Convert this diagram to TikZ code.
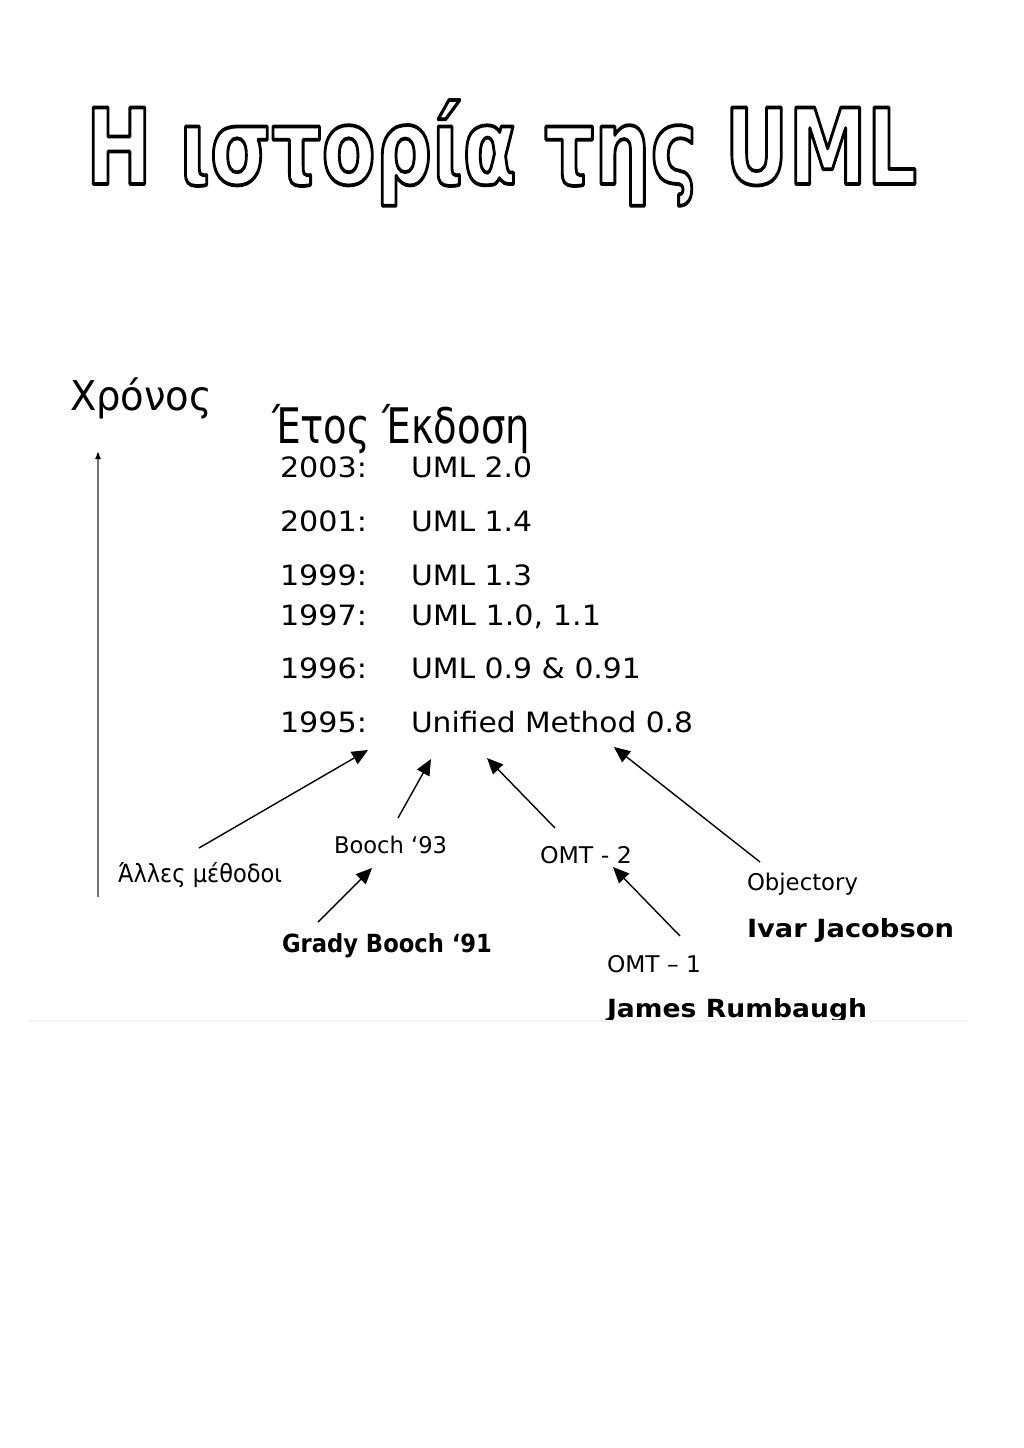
\documentclass[tikz,border=0pt]{standalone}
\usepackage{fontspec}
\setmainfont{DejaVu Sans}
\usetikzlibrary{arrows.meta,calc}
\newcommand\fw[2]{\resizebox{#1pt}{\height}{#2}}
\newcommand\outlined[1]{\special{pdf:literal direct 1 Tr 3 w 1 j}#1\special{pdf:literal direct 0 Tr}}
\begin{document}
\begin{tikzpicture}[x=1pt,y=-1pt,
  lbl/.style={anchor=base west, inner sep=0pt, outer sep=0pt},
  rowtxt/.style={lbl, font=\fontsize{28}{28}\selectfont},
  small/.style={lbl, font=\fontsize{23}{23}\selectfont},
  strong/.style={lbl, font=\fontsize{25}{25}\selectfont\bfseries},
  conn/.style={draw=black, line width=1.4pt, -{Triangle[length=16pt,width=14pt]}},
  axisline/.style={draw=black!55, line width=1.4pt, -{Latex[length=8pt,width=6pt,color=black]}}
]
\useasboundingbox[fill=white] (0,0) rectangle (1024,1448);

% title (outlined)
\node[lbl, font=\fontsize{84}{84}\selectfont\bfseries] (title) at (86,184) {\resizebox{831pt}{84pt}{\outlined{Η ιστορία της UML}}};

% time axis
\node[lbl, font=\fontsize{41}{41}\selectfont] (xronos) at (70,410) {\fw{142}{Χρόνος}};
\coordinate (axbot) at (98,897);
\coordinate (axtop) at (98,451);
\draw[axisline] (axbot) -- (axtop);

% header
\node[lbl, font=\fontsize{49}{49}\selectfont] (header) at (272,443) {\fw{258}{Έτος Έκδοση}};

% rows
\node[rowtxt] (y2003) at (280,477) {\fw{87}{2003:}};
\node[rowtxt] (v2003) at (411,477) {\fw{121}{UML 2.0}};
\node[rowtxt] (y2001) at (280,531) {\fw{87}{2001:}};
\node[rowtxt] (v2001) at (411,531) {\fw{121}{UML 1.4}};
\node[rowtxt] (y1999) at (280,585) {\fw{87}{1999:}};
\node[rowtxt] (v1999) at (411,585) {\fw{121}{UML 1.3}};
\node[rowtxt] (y1997) at (280,625) {\fw{87}{1997:}};
\node[rowtxt] (v1997) at (411,625) {\fw{190}{UML 1.0, 1.1}};
\node[rowtxt] (y1996) at (280,678) {\fw{87}{1996:}};
\node[rowtxt] (v1996) at (411,678) {\fw{230}{UML 0.9 \& 0.91}};
\node[rowtxt] (y1995) at (280,732) {\fw{87}{1995:}};
\node[rowtxt] (v1995) at (411,732) {\fw{282}{Unified Method 0.8}};

% sources
\node[lbl, font=\fontsize{25}{25}\selectfont] (alt) at (118,882) {\fw{164}{Άλλες μέθοδοι}};
\node[small] (b93) at (334,853) {\fw{113}{Booch ‘93}};
\node[strong] (gb91) at (282,952) {\fw{210}{Grady Booch ‘91}};
\node[small] (omt2) at (540,863) {\fw{92}{OMT - 2}};
\node[small] (obj) at (747,890) {\fw{111}{Objectory}};
\node[strong] (ivar) at (747,937) {\fw{207}{Ivar Jacobson}};
\node[small] (omt1) at (607,972) {\fw{94}{OMT – 1}};
\begin{scope}
  \clip (0,0) rectangle (1024,1019);
  \node[strong] (james) at (607,1017) {\fw{260}{James Rumbaugh}};
\end{scope}
\draw[black!4, line width=1.5pt] (28,1021) -- (968,1021);

% arrow end points
\coordinate (altT) at (199,848);   \coordinate (altH) at (368,750);
\coordinate (b93T) at (398,818);   \coordinate (b93H) at (431,759);
\coordinate (omt2T) at (555,828);  \coordinate (omt2H) at (487,758);
\coordinate (objT) at (760,862);   \coordinate (objH) at (614,747);
\coordinate (gbT) at (318,922);    \coordinate (gbH) at (372,868);
\coordinate (omt1T) at (680,936);  \coordinate (omt1H) at (613,867);

\draw[conn] (altT) -- (altH);
\draw[conn] (b93T) -- (b93H);
\draw[conn] (omt2T) -- (omt2H);
\draw[conn] (objT) -- (objH);
\draw[conn] (gbT) -- (gbH);
\draw[conn] (omt1T) -- (omt1H);
\end{tikzpicture}
\end{document}
